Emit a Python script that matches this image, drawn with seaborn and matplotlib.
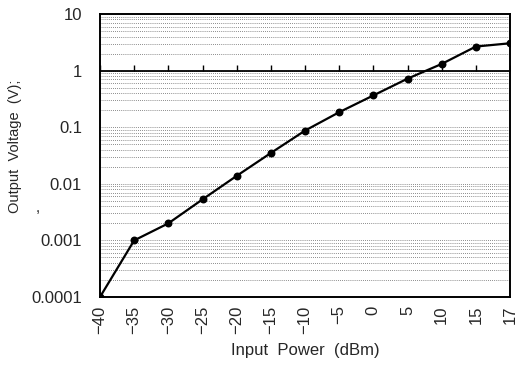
import numpy as np
import pandas as pd
import matplotlib
matplotlib.use("Agg")
import matplotlib.pyplot as plt
import seaborn as sns
from matplotlib.ticker import LogLocator, FixedLocator, FixedFormatter, NullFormatter

# data
power_dbm = ["-40", "-35", "-30", "-25", "-20", "-15", "-10", "-5", "0", "5", "10", "15", "17"]
voltage_v = [0.0001, 0.001, 0.002, 0.0053, 0.0138, 0.035, 0.087, 0.184, 0.364, 0.72, 1.31, 2.66, 3.04]
ytick_vals = [0.0001, 0.001, 0.01, 0.1, 1, 10]
ytick_labels = ["0.0001", "0.001", "0.01", "0.1", "1", "10"]

df = pd.DataFrame({"power": power_dbm, "voltage": voltage_v})

sns.set_style("white")
plt.rcParams["font.family"] = ["Liberation Sans", "DejaVu Sans"]

fig = plt.figure(figsize=(5.18, 3.66), dpi=100)
ax = fig.add_axes([100 / 518, 1 - 297 / 366, 410 / 518, 283 / 366])

sns.pointplot(data=df, x="power", y="voltage", order=power_dbm, color="black",
              markers="o", linestyles="-", markersize=4.5, linewidth=1.6, ax=ax)

ax.set_yscale("log")
ax.set_ylim(0.0001, 10)
ax.set_xlim(0, len(power_dbm) - 1)

ax.yaxis.set_major_locator(FixedLocator(ytick_vals))
ax.yaxis.set_major_formatter(FixedFormatter(ytick_labels))
ax.yaxis.set_minor_locator(LogLocator(base=10, subs=np.arange(2, 10)))
ax.yaxis.set_minor_formatter(NullFormatter())

ax.set_xticks(range(len(power_dbm)))
ax.set_xticklabels([p.replace("-", "\u2212") for p in power_dbm])

# dotted horizontal grid
ax.grid(True, axis="y", which="both", color="0.4", linestyle=(0, (1, 1.5)), linewidth=0.6)
ax.grid(False, axis="x")
ax.set_axisbelow(True)

# solid line at 1 V with small upward ticks
ax.axhline(1, color="black", linewidth=1.3, zorder=2)
ax.plot(range(len(power_dbm)), [1] * len(power_dbm), linestyle="none",
        marker=2, markersize=4, color="black", zorder=2)

for s in ax.spines.values():
    s.set_color("black")
    s.set_linewidth(1.4)

ax.tick_params(axis="y", which="major", length=3, width=1, labelsize=12, pad=10, color="black")
ax.tick_params(axis="y", which="minor", length=0)
ax.tick_params(axis="x", length=0, labelsize=12, pad=6, labelrotation=90)
for lab in ax.get_xticklabels():
    lab.set_verticalalignment("top")

ax.set_xlabel("Input  Power  (dBm)", fontsize=12)
ax.xaxis.set_label_coords((305 - 100) / 410, -(343 - 297) / 283)
ax.set_ylabel("Output  Voltage  (V);", fontsize=10.5)
ax.yaxis.set_label_coords(-(100 - 22) / 410, (297 - 146) / 283)
fig.text(38 / 518, 1 - 208 / 366, ",", fontsize=11, ha="center", va="center")

fig.savefig("out.png", dpi=100)
